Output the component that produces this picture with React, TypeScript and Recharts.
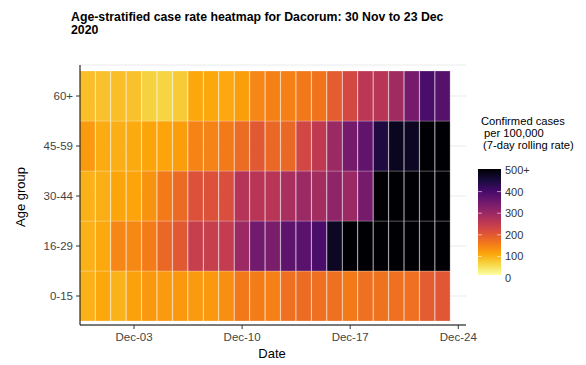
import React from 'react';
import { BarChart, Bar, XAxis, YAxis, CartesianGrid, Cell } from 'recharts';

// ---- data ----
const dates = [
  'Nov-30', 'Dec-01', 'Dec-02', 'Dec-03', 'Dec-04', 'Dec-05', 'Dec-06', 'Dec-07',
  'Dec-08', 'Dec-09', 'Dec-10', 'Dec-11', 'Dec-12', 'Dec-13', 'Dec-14', 'Dec-15',
  'Dec-16', 'Dec-17', 'Dec-18', 'Dec-19', 'Dec-20', 'Dec-21', 'Dec-22', 'Dec-23',
];
const axisEndDate = 'Dec-24';
const xTickLabels = ['Dec-03', 'Dec-10', 'Dec-17', 'Dec-24'];

const ageGroups = ['0-15', '16-29', '30-44', '45-59', '60+'];
const yTickValues = [0.5, 1.5, 2.5, 3.5, 4.5];

const rate0to15 = [88, 98, 87, 105, 113, 112, 113, 112, 113, 125, 150, 145, 140, 160, 165, 160, 160, 148, 160, 158, 160, 160, 185, 192];
const rate16to29 = [88, 96, 135, 132, 145, 170, 190, 235, 235, 240, 290, 340, 330, 365, 370, 390, 470, 540, 580, 600, 610, 620, 630, 640];
const rate30to44 = [88, 90, 100, 101, 120, 148, 167, 200, 200, 205, 258, 255, 255, 275, 290, 280, 305, 290, 335, 560, 590, 610, 620, 640];
const rate45to59 = [112, 93, 90, 95, 100, 101, 108, 138, 138, 148, 165, 190, 170, 170, 220, 245, 290, 335, 360, 440, 475, 470, 520, 540];
const rate60plus = [75, 72, 75, 72, 55, 53, 62, 98, 98, 97, 108, 135, 140, 140, 150, 155, 185, 215, 250, 255, 285, 335, 390, 375];

const legendTicks = [0, 100, 200, 300, 400, 500];
const legendTickLabels = ['0', '100', '200', '300', '400', '500+'];
const rateCap = 500;

// ---- colour scale (inferno, reversed) ----
const inferno = ['#000004', '#160B39', '#420A68', '#6A176E', '#932667', '#BC3754', '#DD513A', '#F37819', '#FCA50A', '#F6D746', '#FCFFA4'];

function hexToRgb(h: string) {
  return [parseInt(h.slice(1, 3), 16), parseInt(h.slice(3, 5), 16), parseInt(h.slice(5, 7), 16)];
}
function colourFor(v: number | null) {
  if (v == null) return 'none';
  const t = 1 - Math.min(Math.max(v, 0), rateCap) / rateCap;
  const pos = t * (inferno.length - 1);
  const i = Math.min(Math.floor(pos), inferno.length - 2);
  const f = pos - i;
  const a = hexToRgb(inferno[i]);
  const b = hexToRgb(inferno[i + 1]);
  const c = a.map((x, k) => Math.round(x + (b[k] - x) * f));
  return `rgb(${c[0]},${c[1]},${c[2]})`;
}

const seriesByAge: Record<string, number[]> = {
  '0-15': rate0to15,
  '16-29': rate16to29,
  '30-44': rate30to44,
  '45-59': rate45to59,
  '60+': rate60plus,
};

const rows = [...dates, axisEndDate].map((d, i) => {
  const r: any = { date: d };
  ageGroups.forEach((g) => {
    const v = seriesByAge[g][i];
    r[g] = v === undefined ? null : v;
  });
  return r;
});

const font = '"Liberation Sans", Arial, Helvetica, sans-serif';

export default function App() {
  const barTop = 170;
  const barBottom = 278;
  const barX = 478;
  const barW = 23;
  const yFor = (v: number) => barBottom - (v / rateCap) * (barBottom - barTop);
  return (
    <div style={{ position: 'absolute', left: 0, top: 0, width: 586, height: 365, background: '#fff', fontFamily: font }}>
      <BarChart
        width={586}
        height={365}
        data={rows}
        margin={{ top: 65, right: 120, bottom: 0, left: 0 }}
        barCategoryGap={0}
        barGap={0}
      >
        <CartesianGrid vertical={false} stroke="#ebebeb" strokeWidth={1} />
        <XAxis
          dataKey="date"
          type="category"
          height={40}
          ticks={xTickLabels}
          interval={0}
          tickSize={4}
          tickMargin={4}
          axisLine={{ stroke: '#000', strokeWidth: 1 }}
          tickLine={{ stroke: '#333', strokeWidth: 1 }}
          tick={{ fill: '#444', fontSize: 11.5, fontFamily: font }}
        />
        <YAxis
          type="number"
          width={80}
          domain={[-0.08, 5.12]}
          allowDataOverflow
          ticks={yTickValues}
          tickFormatter={(v: number) => ageGroups[Math.floor(v)]}
          tickSize={4}
          tickMargin={3}
          axisLine={{ stroke: '#000', strokeWidth: 1 }}
          tickLine={{ stroke: '#333', strokeWidth: 1 }}
          tick={{ fill: '#444', fontSize: 11.5, fontFamily: font }}
        />
        {ageGroups.map((g) => (
          <Bar
            key={g}
            stackId="tiles"
            dataKey={(r: any) => (r[g] == null ? null : 1)}
            isAnimationActive={false}
          >
            {rows.map((r, i) => (
              <Cell key={i} fill={colourFor(r[g])} stroke="rgba(255,255,255,0.3)" strokeWidth={0.8} />
            ))}
          </Bar>
        ))}
      </BarChart>
      <svg width={586} height={365} style={{ position: 'absolute', left: 0, top: 0, pointerEvents: 'none' }}>
        <defs>
          <linearGradient id="infernoBar" x1="0" y1="1" x2="0" y2="0">
            {inferno.map((c, i) => (
              <stop key={i} offset={`${(i / (inferno.length - 1)) * 100}%`} stopColor={inferno[inferno.length - 1 - i]} />
            ))}
          </linearGradient>
        </defs>
        <text x={71} y={21} fontFamily={font} fontSize={12.3} fontWeight="bold" fill="#000">
          Age-stratified case rate heatmap for Dacorum: 30 Nov to 23 Dec
        </text>
        <text x={71} y={34} fontFamily={font} fontSize={12.3} fontWeight="bold" fill="#000">
          2020
        </text>
        <text x={272} y={358} fontFamily={font} fontSize={13} fill="#000" textAnchor="middle">
          Date
        </text>
        <text
          x={25}
          y={197}
          fontFamily={font}
          fontSize={13}
          fill="#000"
          textAnchor="middle"
          transform="rotate(-90 25 197)"
        >
          Age group
        </text>
        <text x={481} y={125} fontFamily={font} fontSize={11.2} fill="#000">Confirmed cases</text>
        <text x={484} y={137} fontFamily={font} fontSize={11.2} fill="#000">per 100,000</text>
        <text x={483} y={149} fontFamily={font} fontSize={11.2} fill="#000">(7-day rolling rate)</text>
        <rect x={barX} y={barTop - 1} width={barW} height={barBottom - barTop - 2} fill="url(#infernoBar)" />
        {legendTicks.map((v, i) => (
          <g key={v}>
            {i > 0 && i < legendTicks.length - 1 && (
              <>
                <line x1={barX} x2={barX + 4} y1={yFor(v)} y2={yFor(v)} stroke="#fff" strokeWidth={0.8} opacity={0.7} />
                <line x1={barX + barW - 4} x2={barX + barW} y1={yFor(v)} y2={yFor(v)} stroke="#fff" strokeWidth={0.8} opacity={0.7} />
              </>
            )}
            <text x={505} y={yFor(v) + 4} fontFamily={font} fontSize={11} fill="#333">
              {legendTickLabels[i]}
            </text>
          </g>
        ))}
      </svg>
    </div>
  );
}
